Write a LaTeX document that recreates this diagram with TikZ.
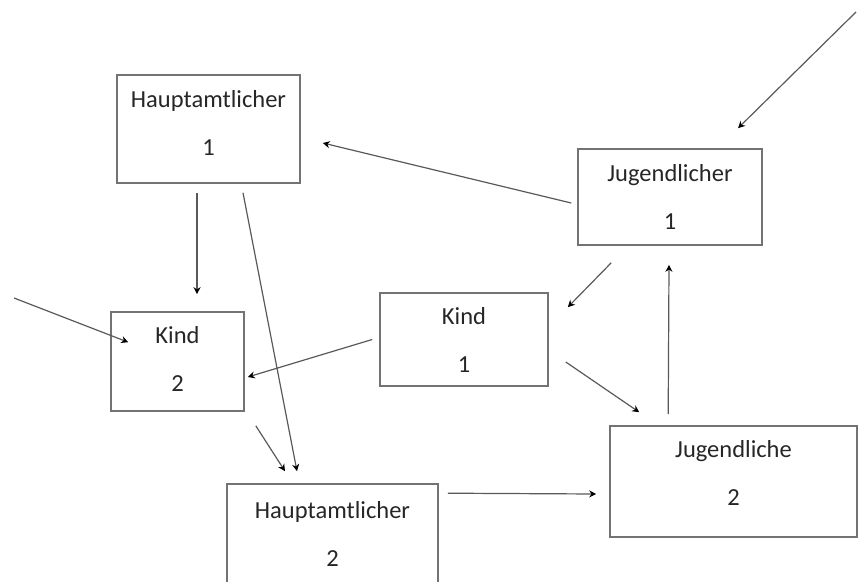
\documentclass[tikz,border=0pt]{standalone}
\usepackage{fontspec}
\setmainfont{Carlito}
\usetikzlibrary{arrows.meta}

\begin{document}
\begin{tikzpicture}[x=1pt,y=-1pt,
  box/.style={draw=black!55,line width=1.6pt,rectangle,align=center,
    font=\fontsize{24.5}{29.4}\selectfont,text=black!85},
  arr/.style={-{Stealth[length=7pt,width=7pt,color=black,fill=black]},line width=1.2pt,draw=black!65}]
  \useasboundingbox (0,0) rectangle (858,581);
  \node[box,minimum width=183pt,minimum height=108pt,text depth=13pt] (h1) at (208.5,129) {Hauptamtlicher\\[18.6pt]1};
  \node[box,minimum width=184pt,minimum height=96pt] (j1) at (670,197) {Jugendlicher\\[18.6pt]1};
  \node[box,minimum width=168pt,minimum height=93pt] (k1) at (464,339.5) {Kind\\[18.6pt]1};
  \node[box,minimum width=133pt,minimum height=99pt,text depth=5pt] (k2) at (177.5,361.5) {Kind\\[18.6pt]2};
  \node[box,minimum width=211pt,minimum height=100pt] (h2) at (332.5,534) {Hauptamtlicher\\[18.6pt]2};
  \node[box,minimum width=247pt,minimum height=111pt,text depth=17pt] (j2) at (733.5,481.5) {Jugendliche\\[18.6pt]2};
  \coordinate (tr) at (856,12);
  \coordinate (lf) at (14,298);
  % arrows
  \draw[arr] ([xshift=-11.5pt,yshift=-9pt]h1.south) -- ([xshift=19.5pt,yshift=17pt]k2.north);
  \draw[arr] ([xshift=34.5pt,yshift=-9pt]h1.south) -- ([xshift=-35.5pt,yshift=12pt]h2.north);
  \draw[arr] ([xshift=11pt,yshift=-14pt]k2.south east) -- ([xshift=-47.5pt,yshift=12pt]h2.north);
  \draw[arr] ([xshift=-6pt,yshift=-6pt]j1.west) -- ([xshift=22pt,yshift=-14pt]h1.east);
  \draw[arr] ([xshift=-7pt]k1.west) -- ([xshift=3pt,yshift=-15.5pt]k2.east);
  \draw[arr] ([xshift=34pt,yshift=-17pt]j1.south west) -- ([xshift=19pt,yshift=-15pt]k1.north east);
  \draw[arr] ([xshift=17pt,yshift=-22.5pt]k1.east) -- ([xshift=30pt,yshift=13pt]j2.north west);
  \draw[arr] ([xshift=59pt,yshift=11pt]j2.north west) -- ([xshift=-1pt,yshift=-19pt]j1.south);
  \draw[arr] ([xshift=9pt,yshift=-10pt]h2.north east) -- ([xshift=-13pt,yshift=-12.5pt]j2.west);
  \draw[arr] (tr) -- ([xshift=68pt,yshift=20pt]j1.north);
  \draw[arr] (lf) -- ([xshift=18pt,yshift=-31pt]k2.north west);
\end{tikzpicture}
\end{document}
